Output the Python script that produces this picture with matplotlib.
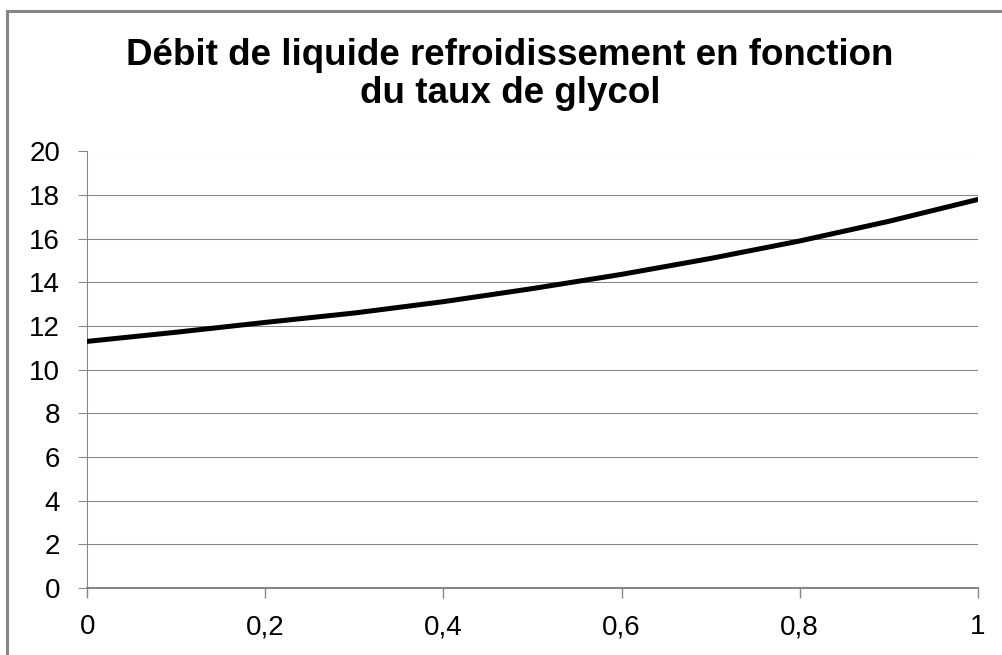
import matplotlib
matplotlib.use("Agg")
import matplotlib.pyplot as plt
from matplotlib.lines import Line2D

plt.rcParams['font.family'] = ['Liberation Sans', 'DejaVu Sans']

# taux de glycol vs debit
taux = [0.0, 0.1, 0.2, 0.3, 0.4, 0.5, 0.6, 0.7, 0.8, 0.9, 1.0]
debit = [11.3, 11.72, 12.17, 12.6, 13.12, 13.72, 14.37, 15.1, 15.9, 16.8, 17.8]
xticks = [0, 0.2, 0.4, 0.6, 0.8, 1]
xlabels = ['0', '0,2', '0,4', '0,6', '0,8', '1']
yticks = list(range(0, 21, 2))
titre = ['Débit de liquide refroidissement en fonction', 'du taux de glycol']

W, H = 1003, 655
grey = '#868686'
fig = plt.figure(figsize=(W / 100, H / 100), dpi=100)
ax = fig.add_axes([87.3 / W, 1 - 588 / H, (977.7 - 87.3) / W, (588 - 151.5) / H])

ax.plot(taux, debit, color='black', lw=3.6, solid_capstyle='round', zorder=3)

ax.set_xlim(0, 1)
ax.set_ylim(0, 20)
ax.set_xticks(xticks)
ax.set_xticklabels(xlabels)
ax.set_yticks(yticks)
ax.yaxis.grid(True, color=grey, lw=0.75)
ax.set_axisbelow(True)

for s in ['top', 'right']:
    ax.spines[s].set_visible(False)
ax.spines['left'].set_color(grey)
ax.spines['left'].set_linewidth(0.75)
ax.spines['bottom'].set_color(grey)
ax.spines['bottom'].set_linewidth(1.5)
ax.tick_params(axis='y', direction='out', length=6.5, width=0.75, color=grey,
               labelsize=20, pad=13)
ax.tick_params(axis='x', direction='out', length=7, width=1.0, color=grey,
               labelsize=20, pad=12)

# titre sur deux lignes (lignes de base mesurees)
for ligne, yb in zip(titre, [65, 103]):
    fig.text(510 / W, 1 - yb / H, ligne, ha='center', va='baseline',
             fontsize=26.5, fontweight='bold')

# cadre du graphique (haut et gauche visibles)
fig.add_artist(Line2D([7 / W, 1.01], [1 - 10.5 / H, 1 - 10.5 / H],
                      transform=fig.transFigure, color=grey, lw=2.2))
fig.add_artist(Line2D([7 / W, 7 / W], [1 - 10.5 / H, -0.01],
                      transform=fig.transFigure, color=grey, lw=2.2))

fig.savefig('out.png', dpi=100)
